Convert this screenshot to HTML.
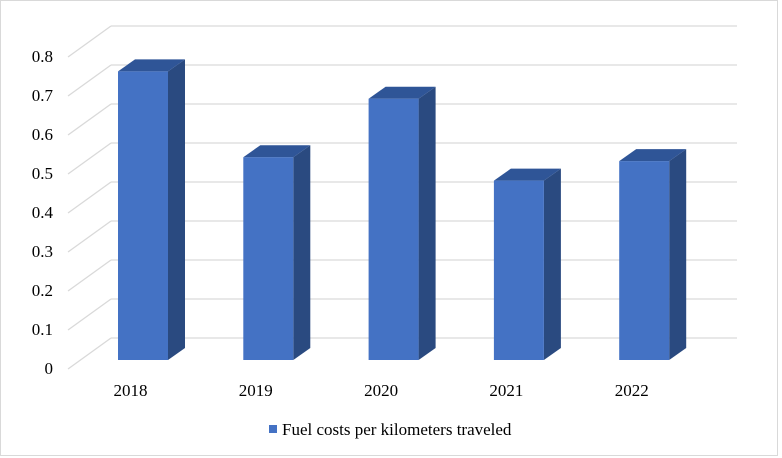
<!DOCTYPE html>
<html><head><meta charset="utf-8"><style>
body{margin:0;background:#fff}
svg{display:block;font-family:"Liberation Serif",serif}
</style></head><body>
<svg id="chart" width="782" height="458" viewBox="0 0 782 458">
<rect x="0.5" y="0.5" width="777" height="455" fill="#fff" stroke="#d9d9d9"/>
<g id="grid"></g><g id="bars"></g><g id="labels"></g>
<g>
<rect x="269" y="425" width="8" height="8" fill="#4472c4"/>
<text x="282" y="435" font-size="17" fill="#000">Fuel costs per kilometers traveled</text>
</g>
</svg>
<script>
const categories=["2018","2019","2020","2021","2022"];
const values=[0.74,0.52,0.67,0.46,0.51];
const ticks=["0","0.1","0.2","0.3","0.4","0.5","0.6","0.7","0.8"];
const NS="http://www.w3.org/2000/svg";
const unit=390; // px per 1.0
const backY=v=>338-v*unit, frontY=v=>369-v*unit, barY=v=>360-v*unit;
const barX=i=>118+i*125.3;
function mk(t,a,p){const e=document.createElementNS(NS,t);for(const k in a)e.setAttribute(k,a[k]);p.appendChild(e);return e;}
const grid=document.getElementById('grid'),bars=document.getElementById('bars'),labels=document.getElementById('labels');
ticks.forEach((t,k)=>{const v=parseFloat(t);
 const d=mk('line',{x1:68,y1:frontY(v),x2:111,y2:backY(v),stroke:'#d9d9d9','stroke-width':1.3},grid);
 
 
 const h=mk('line',{x1:111,y1:backY(v),x2:737,y2:backY(v),stroke:'#d9d9d9','stroke-width':1.3},grid);
 
 
 const tx=mk('text',{x:53,y:frontY(v)+5,'text-anchor':'end','font-size':17,fill:'#000'},labels);
 tx.textContent=t;
 
 
});
const W=50,DX=17,DY=12;
categories.forEach((c,i)=>{const x=barX(i),yt=barY(values[i]),yb=barY(0);
 const g=mk('g',{},bars);
 
 
 mk('polygon',{points:`${x+W},${yt} ${x+W+DX},${yt-DY} ${x+W+DX},${yb-DY} ${x+W},${yb}`,fill:'#2a4a80'},g);
 mk('polygon',{points:`${x},${yt} ${x+DX},${yt-DY} ${x+W+DX},${yt-DY} ${x+W},${yt}`,fill:'#2f5597'},g);
 mk('rect',{x:x,y:yt,width:W,height:yb-yt,fill:'#4472c4'},g);
 const tx=mk('text',{x:x+12.5,y:396,'text-anchor':'middle','font-size':17,fill:'#000'},labels);
 tx.textContent=c;
 
 
});
</script>
</body></html>
